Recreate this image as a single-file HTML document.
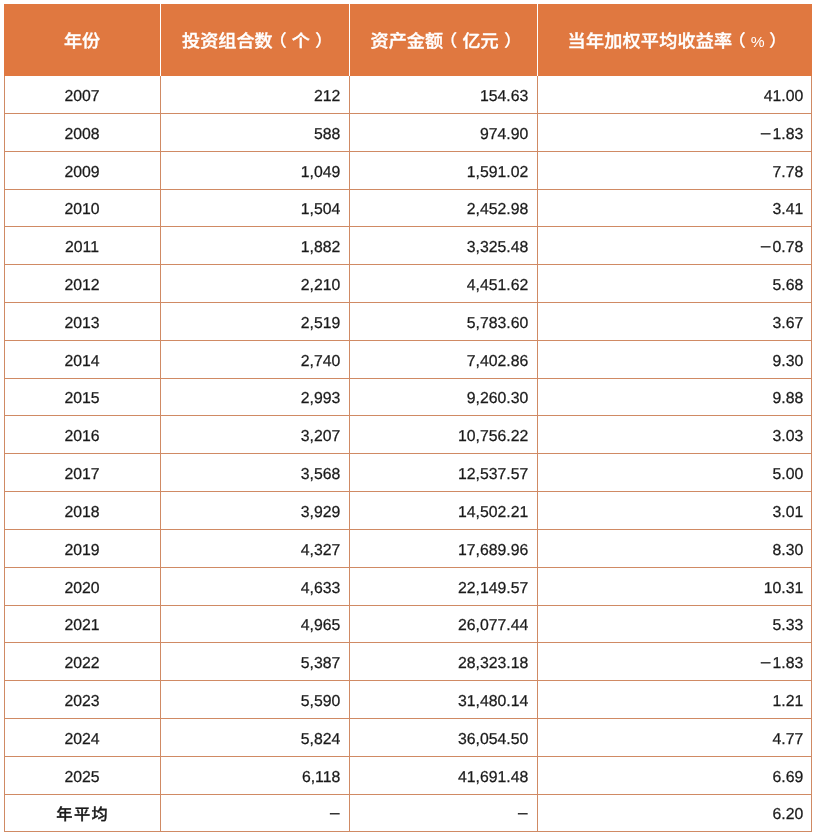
<!DOCTYPE html>
<html lang="zh-CN"><head><meta charset="utf-8"><title>table</title>
<style>
html,body{margin:0;padding:0;background:#fff;}
body{width:816px;height:835px;position:relative;overflow:hidden;font-family:"Liberation Sans","Noto Sans CJK SC",sans-serif;color:#111;}
.hd{position:absolute;left:4px;top:4px;width:808px;height:72px;background:#e07840;}
.th{position:absolute;top:4px;height:72px;line-height:72px;text-align:center;color:#fff;font-weight:500;-webkit-text-stroke:0.4px #fff;font-size:18.1px;white-space:nowrap;}
.th .w{display:inline-block;transform:scaleY(0.92);transform-origin:50% 48.5px;}
.th span span{position:relative;}
.th .l,.th .r{-webkit-text-stroke:0.15px #fff;}
.th .pc{font-weight:400;-webkit-text-stroke:0;font-size:15.6px;top:-0.5px;display:inline-block;width:14px;text-align:center;}
.vs{position:absolute;top:4px;height:72px;width:1px;background:#fff;}
.hl{position:absolute;left:4px;width:808px;height:1px;background:#d08a64;}
.vl{position:absolute;top:76px;width:1px;height:756px;background:#d08a64;}
.c{position:absolute;white-space:nowrap;font-size:15.8px;height:38px;line-height:38px;text-rendering:geometricPrecision;color:#1a1a1a;-webkit-text-stroke:0.25px #1a1a1a;}
.m{display:inline-block;position:relative;left:-1.1px;transform:scaleX(1.22);transform-origin:100% 50%;}
.d{font-size:17px;position:relative;top:-2.6px;left:-0.8px;letter-spacing:0;}
.c1{text-align:center;}
.r{text-align:right;}
.b{font-weight:500;font-size:16.2px;letter-spacing:1.4px;text-indent:1.4px;-webkit-text-stroke:0.35px #1a1a1a;}
</style></head><body>
<div class="hd"></div>

<div class="th" style="left:4px;width:156px"><span class="w">年份</span></div>
<div class="th" style="left:160px;width:189px"><span class="w">投资组合数<span class="l" style="left:-3.8px">（</span><span style="left:1px">个</span><span class="r" style="left:6.2px">）</span></span></div>
<div class="th" style="left:349px;width:188px"><span class="w">资产金额<span class="l" style="left:-3.7px">（</span><span style="left:1.4px">亿元</span><span class="r" style="left:6.6px">）</span></span></div>
<div class="th" style="left:537px;width:275px"><span class="w"><span style="letter-spacing:0.22px;left:0.6px">当年加权平均收益率</span><span class="l" style="left:-4.0px">（</span><span class="pc" style="left:0.8px">%</span><span class="r" style="left:5.2px">）</span></span></div>
<div class="vs" style="left:160px"></div>
<div class="vs" style="left:349px"></div>
<div class="vs" style="left:537px"></div>
<div class="hl" style="top:113px"></div>
<div class="hl" style="top:151px"></div>
<div class="hl" style="top:189px"></div>
<div class="hl" style="top:226px"></div>
<div class="hl" style="top:264px"></div>
<div class="hl" style="top:302px"></div>
<div class="hl" style="top:340px"></div>
<div class="hl" style="top:378px"></div>
<div class="hl" style="top:415px"></div>
<div class="hl" style="top:453px"></div>
<div class="hl" style="top:491px"></div>
<div class="hl" style="top:529px"></div>
<div class="hl" style="top:567px"></div>
<div class="hl" style="top:605px"></div>
<div class="hl" style="top:642px"></div>
<div class="hl" style="top:680px"></div>
<div class="hl" style="top:718px"></div>
<div class="hl" style="top:756px"></div>
<div class="hl" style="top:794px"></div>
<div class="hl" style="top:831px"></div>
<div class="vl" style="left:4px"></div>
<div class="vl" style="left:160px"></div>
<div class="vl" style="left:349px"></div>
<div class="vl" style="left:537px"></div>
<div class="vl" style="left:811px"></div>
<div class="c c1" style="left:4px;width:156px;top:77.70px">2007</div>
<div class="c r" style="left:160px;width:180.3px;top:77.70px">212</div>
<div class="c r" style="left:349px;width:179.3px;top:77.70px">154.63</div>
<div class="c r" style="left:537px;width:266.3px;top:77.70px">41.00</div>
<div class="c c1" style="left:4px;width:156px;top:115.70px">2008</div>
<div class="c r" style="left:160px;width:180.3px;top:115.70px">588</div>
<div class="c r" style="left:349px;width:179.3px;top:115.70px">974.90</div>
<div class="c r" style="left:537px;width:266.3px;top:115.70px"><span class="m">−</span>1.83</div>
<div class="c c1" style="left:4px;width:156px;top:153.70px">2009</div>
<div class="c r" style="left:160px;width:180.3px;top:153.70px">1,049</div>
<div class="c r" style="left:349px;width:179.3px;top:153.70px">1,591.02</div>
<div class="c r" style="left:537px;width:266.3px;top:153.70px">7.78</div>
<div class="c c1" style="left:4px;width:156px;top:191.20px">2010</div>
<div class="c r" style="left:160px;width:180.3px;top:191.20px">1,504</div>
<div class="c r" style="left:349px;width:179.3px;top:191.20px">2,452.98</div>
<div class="c r" style="left:537px;width:266.3px;top:191.20px">3.41</div>
<div class="c c1" style="left:4px;width:156px;top:228.70px">2011</div>
<div class="c r" style="left:160px;width:180.3px;top:228.70px">1,882</div>
<div class="c r" style="left:349px;width:179.3px;top:228.70px">3,325.48</div>
<div class="c r" style="left:537px;width:266.3px;top:228.70px"><span class="m">−</span>0.78</div>
<div class="c c1" style="left:4px;width:156px;top:266.70px">2012</div>
<div class="c r" style="left:160px;width:180.3px;top:266.70px">2,210</div>
<div class="c r" style="left:349px;width:179.3px;top:266.70px">4,451.62</div>
<div class="c r" style="left:537px;width:266.3px;top:266.70px">5.68</div>
<div class="c c1" style="left:4px;width:156px;top:304.70px">2013</div>
<div class="c r" style="left:160px;width:180.3px;top:304.70px">2,519</div>
<div class="c r" style="left:349px;width:179.3px;top:304.70px">5,783.60</div>
<div class="c r" style="left:537px;width:266.3px;top:304.70px">3.67</div>
<div class="c c1" style="left:4px;width:156px;top:342.70px">2014</div>
<div class="c r" style="left:160px;width:180.3px;top:342.70px">2,740</div>
<div class="c r" style="left:349px;width:179.3px;top:342.70px">7,402.86</div>
<div class="c r" style="left:537px;width:266.3px;top:342.70px">9.30</div>
<div class="c c1" style="left:4px;width:156px;top:380.20px">2015</div>
<div class="c r" style="left:160px;width:180.3px;top:380.20px">2,993</div>
<div class="c r" style="left:349px;width:179.3px;top:380.20px">9,260.30</div>
<div class="c r" style="left:537px;width:266.3px;top:380.20px">9.88</div>
<div class="c c1" style="left:4px;width:156px;top:417.70px">2016</div>
<div class="c r" style="left:160px;width:180.3px;top:417.70px">3,207</div>
<div class="c r" style="left:349px;width:179.3px;top:417.70px">10,756.22</div>
<div class="c r" style="left:537px;width:266.3px;top:417.70px">3.03</div>
<div class="c c1" style="left:4px;width:156px;top:455.70px">2017</div>
<div class="c r" style="left:160px;width:180.3px;top:455.70px">3,568</div>
<div class="c r" style="left:349px;width:179.3px;top:455.70px">12,537.57</div>
<div class="c r" style="left:537px;width:266.3px;top:455.70px">5.00</div>
<div class="c c1" style="left:4px;width:156px;top:493.70px">2018</div>
<div class="c r" style="left:160px;width:180.3px;top:493.70px">3,929</div>
<div class="c r" style="left:349px;width:179.3px;top:493.70px">14,502.21</div>
<div class="c r" style="left:537px;width:266.3px;top:493.70px">3.01</div>
<div class="c c1" style="left:4px;width:156px;top:531.70px">2019</div>
<div class="c r" style="left:160px;width:180.3px;top:531.70px">4,327</div>
<div class="c r" style="left:349px;width:179.3px;top:531.70px">17,689.96</div>
<div class="c r" style="left:537px;width:266.3px;top:531.70px">8.30</div>
<div class="c c1" style="left:4px;width:156px;top:569.70px">2020</div>
<div class="c r" style="left:160px;width:180.3px;top:569.70px">4,633</div>
<div class="c r" style="left:349px;width:179.3px;top:569.70px">22,149.57</div>
<div class="c r" style="left:537px;width:266.3px;top:569.70px">10.31</div>
<div class="c c1" style="left:4px;width:156px;top:607.20px">2021</div>
<div class="c r" style="left:160px;width:180.3px;top:607.20px">4,965</div>
<div class="c r" style="left:349px;width:179.3px;top:607.20px">26,077.44</div>
<div class="c r" style="left:537px;width:266.3px;top:607.20px">5.33</div>
<div class="c c1" style="left:4px;width:156px;top:644.70px">2022</div>
<div class="c r" style="left:160px;width:180.3px;top:644.70px">5,387</div>
<div class="c r" style="left:349px;width:179.3px;top:644.70px">28,323.18</div>
<div class="c r" style="left:537px;width:266.3px;top:644.70px"><span class="m">−</span>1.83</div>
<div class="c c1" style="left:4px;width:156px;top:682.70px">2023</div>
<div class="c r" style="left:160px;width:180.3px;top:682.70px">5,590</div>
<div class="c r" style="left:349px;width:179.3px;top:682.70px">31,480.14</div>
<div class="c r" style="left:537px;width:266.3px;top:682.70px">1.21</div>
<div class="c c1" style="left:4px;width:156px;top:720.70px">2024</div>
<div class="c r" style="left:160px;width:180.3px;top:720.70px">5,824</div>
<div class="c r" style="left:349px;width:179.3px;top:720.70px">36,054.50</div>
<div class="c r" style="left:537px;width:266.3px;top:720.70px">4.77</div>
<div class="c c1" style="left:4px;width:156px;top:758.70px">2025</div>
<div class="c r" style="left:160px;width:180.3px;top:758.70px">6,118</div>
<div class="c r" style="left:349px;width:179.3px;top:758.70px">41,691.48</div>
<div class="c r" style="left:537px;width:266.3px;top:758.70px">6.69</div>
<div class="c c1 b" style="left:4px;width:156px;top:796.20px">年平均</div>
<div class="c r" style="left:160px;width:180.3px;top:796.20px"><span class="d">–</span></div>
<div class="c r" style="left:349px;width:179.3px;top:796.20px"><span class="d">–</span></div>
<div class="c r" style="left:537px;width:266.3px;top:796.20px">6.20</div>
</body></html>
